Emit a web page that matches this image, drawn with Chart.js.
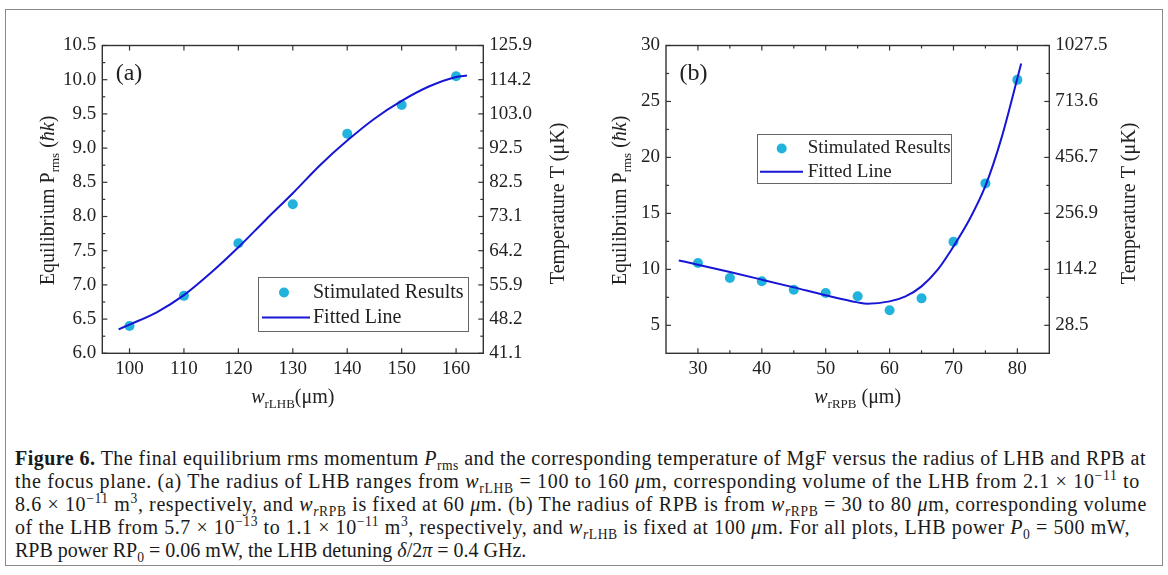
<!DOCTYPE html>
<html><head><meta charset="utf-8">
<script src="https://cdn.jsdelivr.net/npm/chart.js@4.4.0/dist/chart.umd.min.js"></script>
<style>
html,body{margin:0;padding:0;background:#fff;}
body{width:1168px;height:575px;position:relative;overflow:hidden;font-family:'Liberation Serif','Times New Roman',serif;}
#frame{position:absolute;left:5px;top:9px;width:1158px;height:557px;border:1px solid #8a8a8a;box-sizing:border-box;}
canvas{position:absolute;top:0;}
#ca{left:0}
#cb{left:584px}
#cap{position:absolute;left:15px;top:447px;font-size:20px;line-height:23px;color:#1a1a1a;}
#cap .ln{white-space:nowrap;display:block;height:23px;}
#cap .in{display:inline-block;white-space:nowrap;}
sub,sup{font-size:0.68em;line-height:0;}
#warm{position:absolute;left:-999px;top:0;font-family:'Liberation Serif';}
</style></head>
<body>
<div id="warm">Warm <i>ħk</i> <b>x</b></div>
<div id="frame"></div>
<canvas id="ca" width="584" height="420"></canvas>
<canvas id="cb" width="584" height="420"></canvas>
<div id="cap">
<div class="ln" data-w="1131"><span class="in"><b>Figure 6.</b> The final equilibrium rms momentum <i>P</i><sub>rms</sub> and the corresponding temperature of MgF versus the radius of LHB and RPB at</span></div>
<div class="ln" data-w="1125"><span class="in">the focus plane. (a) The radius of LHB ranges from <i>w</i><sub>rLHB</sub> = 100 to 160 <i>μ</i>m, corresponding volume of the LHB from 2.1 × 10<sup>−11</sup> to</span></div>
<div class="ln" data-w="1132"><span class="in">8.6 × 10<sup>−11</sup> m<sup>3</sup>, respectively, and <i>w</i><sub><i>r</i>RPB</sub> is fixed at 60 <i>μ</i>m. (b) The radius of RPB is from <i>w</i><sub><i>r</i>RPB</sub> = 30 to 80 <i>μ</i>m, corresponding volume</span></div>
<div class="ln" data-w="1115"><span class="in">of the LHB from 5.7 × 10<sup>−13</sup> to 1.1 × 10<sup>−11</sup> m<sup>3</sup>, respectively, and <i>w</i><sub><i>r</i>LHB</sub> is fixed at 100 <i>μ</i>m. For all plots, LHB power <i>P</i><sub>0</sub> = 500 mW,</span></div>
<div class="ln"><span class="in">RPB power RP<sub>0</sub> = 0.06 mW, the LHB detuning <i>δ</i>/2<i>π</i> = 0.4 GHz.</span></div>
</div>
<script>
// ---------------- DATA ----------------
const xA = [100, 110, 120, 130, 140, 150, 160];
const yA = [6.40, 6.84, 7.61, 8.18, 9.21, 9.63, 10.05];
const fitXA = [98, 100, 105, 110, 115, 120, 125, 130, 135, 140, 145, 150, 155, 160, 162];
const fitYA = [6.35, 6.42, 6.60, 6.85, 7.18, 7.55, 7.95, 8.34, 8.75, 9.11, 9.43, 9.69, 9.90, 10.04, 10.06];

const xB = [30, 35, 40, 45, 50, 55, 60, 65, 70, 75, 80];
const yB = [10.57, 9.23, 8.93, 8.18, 7.89, 7.59, 6.34, 7.41, 12.47, 17.68, 26.93];
const fitXB = [27, 30, 35, 40, 45, 50, 55, 56.5, 60, 62.5, 65, 67.5, 70, 72.5, 75, 77.5, 80.6];
const fitYB = [10.8, 10.42, 9.76, 9.08, 8.39, 7.68, 7.05, 6.93, 7.14, 7.59, 8.48, 9.95, 12.05, 14.45, 17.45, 21.7, 28.4];

const xTicksA = [100, 110, 120, 130, 140, 150, 160];
const yTicksA = [6.0, 6.5, 7.0, 7.5, 8.0, 8.5, 9.0, 9.5, 10.0, 10.5];
const tempLabelsA = ['41.1', '48.2', '55.9', '64.2', '73.1', '82.5', '92.5', '103.0', '114.2', '125.9'];
const xTicksB = [30, 40, 50, 60, 70, 80];
const yTicksB = [5, 10, 15, 20, 25, 30];
const tempLabelsB = ['28.5', '114.2', '256.9', '456.7', '713.6', '1027.5'];

const seriesNames = ['Stimulated Results', 'Fitted Line'];

// ---------------- STYLE ----------------
const FONT = '"Liberation Serif", "Times New Roman", serif';
const DOT = '#21b3dc';
const LINE = '#1616d4';
const INK = '#222222';

function mids(arr) {
  const out = [];
  for (let i = 0; i < arr.length - 1; i++) out.push((arr[i] + arr[i + 1]) / 2);
  return out;
}

function richText(ctx, segs, x, y, align) {
  let total = 0;
  segs.forEach(s => {
    ctx.font = (s.italic ? 'italic ' : '') + (s.bold ? 'bold ' : '') + s.size + 'px ' + FONT;
    s.w = ctx.measureText(s.t).width; total += s.w;
  });
  let cx = align === 'center' ? x - total / 2 : x;
  ctx.textAlign = 'left'; ctx.textBaseline = 'alphabetic';
  segs.forEach(s => {
    ctx.font = (s.italic ? 'italic ' : '') + (s.bold ? 'bold ' : '') + s.size + 'px ' + FONT;
    ctx.fillText(s.t, cx, y + (s.dy || 0)); cx += s.w;
  });
}

const decoPlugin = {
  id: 'deco',
  afterDatasetsDraw(chart, args, o) {
    const ctx = chart.ctx, a = chart.chartArea;
    const xs = chart.scales.x, ys = chart.scales.y;
    ctx.save();
    ctx.strokeStyle = '#333'; ctx.lineWidth = 1.4;
    ctx.strokeRect(a.left, a.top, a.right - a.left, a.bottom - a.top);
    ctx.lineWidth = 1.2;
    const tick = (x1, y1, x2, y2) => { ctx.beginPath(); ctx.moveTo(x1, y1); ctx.lineTo(x2, y2); ctx.stroke(); };
    o.xMajor.forEach(v => { const p = xs.getPixelForValue(v); tick(p, a.bottom, p, a.bottom - 5); tick(p, a.top, p, a.top + 5); });
    o.xMinor.forEach(v => { const p = xs.getPixelForValue(v); tick(p, a.bottom, p, a.bottom - 3); tick(p, a.top, p, a.top + 3); });
    o.yMajor.forEach(v => { const p = ys.getPixelForValue(v); tick(a.left, p, a.left + 5, p); tick(a.right, p, a.right - 5, p); });
    o.yMinor.forEach(v => { const p = ys.getPixelForValue(v); tick(a.left, p, a.left + 3, p); tick(a.right, p, a.right - 3, p); });

    ctx.fillStyle = INK;
    ctx.font = '24px ' + FONT; ctx.textAlign = 'center'; ctx.textBaseline = 'middle';
    ctx.fillText(o.panel, o.panelX, o.panelY);

    const L = o.legend;
    ctx.fillStyle = '#fff'; ctx.strokeStyle = '#666'; ctx.lineWidth = 1;
    ctx.fillRect(L.x, L.y, L.w, L.h); ctx.strokeRect(L.x, L.y, L.w, L.h);
    ctx.fillStyle = DOT; ctx.beginPath(); ctx.arc(L.mx, L.r1, 5, 0, Math.PI * 2); ctx.fill();
    ctx.strokeStyle = LINE; ctx.lineWidth = 2; tick(L.lx1, L.r2, L.lx2, L.r2);
    ctx.fillStyle = INK; ctx.font = L.fs + 'px ' + FONT; ctx.textAlign = 'left'; ctx.textBaseline = 'middle';
    ctx.fillText(seriesNames[0], L.tx, L.r1);
    ctx.fillText(seriesNames[1], L.tx, L.r2);

    const yc = (a.top + a.bottom) / 2;
    ctx.save(); ctx.translate(o.leftTitleX, yc + 1); ctx.rotate(-Math.PI / 2);
    richText(ctx, [
      { t: 'Equilibrium P', size: 20 }, { t: 'rms', size: 13, dy: 5 },
      { t: ' (', size: 20 }, { t: 'ħk', size: 20, italic: true }, { t: ')', size: 20 }
    ], 0, 7, 'center');
    ctx.restore();
    ctx.save(); ctx.translate(o.rightTitleX, yc + 4); ctx.rotate(-Math.PI / 2);
    richText(ctx, [{ t: 'Temperature T (μK)', size: 20 }], 0, 7, 'center');
    ctx.restore();
    richText(ctx, [
      { t: 'w', size: 20, italic: true }, { t: o.xSub, size: 13, dy: 5 }, { t: o.xGap + '(μm)', size: 20 }
    ], (a.left + a.right) / 2, 403, 'center');
    ctx.restore();
  }
};

function makeChart(id, d) {
  return new Chart(document.getElementById(id), {
    type: 'scatter',
    data: {
      datasets: [
        { label: seriesNames[1], data: d.fitX.map((x, i) => ({ x, y: d.fitY[i] })), showLine: true,
          borderColor: LINE, borderWidth: 2, pointRadius: 0, cubicInterpolationMode: 'monotone', fill: false },
        { label: seriesNames[0], data: d.x.map((x, i) => ({ x, y: d.y[i] })), pointRadius: 5,
          pointBackgroundColor: DOT, pointBorderWidth: 0, backgroundColor: DOT, borderColor: DOT }
      ]
    },
    options: {
      responsive: false, animation: false,
      layout: { padding: { top: 45.5, left: 0, right: 0, bottom: 0 } },
      plugins: { legend: { display: false }, tooltip: { enabled: false }, deco: d.deco },
      scales: {
        x: {
          type: 'linear', min: d.xmin, max: d.xmax,
          afterBuildTicks: s => { s.ticks = d.xTicks.map(v => ({ value: v })); },
          afterFit: s => { s.height = 420 - 353.3; },
          grid: { display: false, drawTicks: false }, border: { display: false },
          ticks: { color: INK, font: { family: FONT, size: 19 }, padding: 4, maxRotation: 0, autoSkip: false,
            callback: v => String(v) }
        },
        y: {
          type: 'linear', position: 'left', min: d.ymin, max: d.ymax,
          afterBuildTicks: s => { s.ticks = d.yTicks.map(v => ({ value: v })); },
          afterFit: s => { s.width = d.leftW; },
          grid: { display: false, drawTicks: false }, border: { display: false },
          ticks: { color: INK, font: { family: FONT, size: 19 }, padding: 6, autoSkip: false,
            callback: v => d.yFmt(v) }
        },
        y2: {
          type: 'linear', position: 'right', min: d.ymin, max: d.ymax,
          afterBuildTicks: s => { s.ticks = d.yTicks.map(v => ({ value: v })); },
          afterFit: s => { s.width = d.rightW; },
          grid: { display: false, drawTicks: false }, border: { display: false },
          ticks: { color: INK, font: { family: FONT, size: 19 }, padding: 6, autoSkip: false,
            callback: (v) => d.tempLabels[d.yTicks.indexOf(v)] }
        }
      }
    },
    plugins: [decoPlugin]
  });
}

function build() {
  Chart.defaults.font.family = FONT;
  makeChart('ca', {
    x: xA, y: yA, fitX: fitXA, fitY: fitYA,
    xmin: 95, xmax: 165, ymin: 6.0, ymax: 10.5,
    xTicks: xTicksA, yTicks: yTicksA, tempLabels: tempLabelsA,
    yFmt: v => v.toFixed(1), leftW: 102.3, rightW: 584 - 483.3,
    deco: {
      xMajor: xTicksA, xMinor: [], yMajor: yTicksA, yMinor: mids(yTicksA),
      panel: '(a)', panelX: 129, panelY: 74,
      legend: { x: 258.5, y: 277.5, w: 210, h: 54, mx: 284, r1: 292.5, r2: 317.5, lx1: 262, lx2: 310, tx: 313, fs: 20 },
      leftTitleX: 47, rightTitleX: 557, xSub: 'rLHB', xGap: ''
    }
  });
  makeChart('cb', {
    x: xB, y: yB, fitX: fitXB, fitY: fitYB,
    xmin: 25, xmax: 85, ymin: 2.5, ymax: 30,
    xTicks: xTicksB, yTicks: yTicksB, tempLabels: tempLabelsB,
    yFmt: v => String(v), leftW: 82, rightW: 584 - 465.3,
    deco: {
      xMajor: xTicksB, xMinor: mids(xTicksB), yMajor: yTicksB, yMinor: mids(yTicksB),
      panel: '(b)', panelX: 109.5, panelY: 74,
      legend: { x: 173.5, y: 134.5, w: 194, h: 49, mx: 197.7, r1: 148.5, r2: 171.7, lx1: 176, lx2: 219, tx: 223.7, fs: 19 },
      leftTitleX: 35, rightTitleX: 544, xSub: 'rRPB', xGap: ' '
    }
  });
}

// caption line fitting: spread the slack over letters
function fitCaption() {
  document.querySelectorAll('#cap .ln').forEach(ln => {
    const tw = parseFloat(ln.dataset.w || '0');
    if (!tw) return;
    const sp = ln.querySelector('.in');
    sp.style.letterSpacing = '0px';
    const w = sp.getBoundingClientRect().width;
    const n = sp.textContent.length;
    if (n) sp.style.letterSpacing = ((tw - w) / n) + 'px';
  });
}

const ready = (document.fonts && document.fonts.load)
  ? Promise.all([
      document.fonts.load('20px "Liberation Serif"'),
      document.fonts.load('italic 20px "Liberation Serif"'),
      document.fonts.load('bold 20px "Liberation Serif"')
    ]).catch(() => {})
  : Promise.resolve();
ready.then(() => { build(); fitCaption(); });
</script>
</body></html>
